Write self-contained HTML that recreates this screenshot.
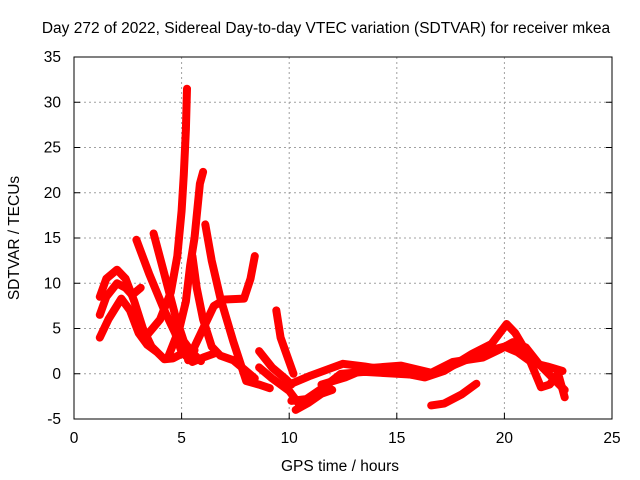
<!DOCTYPE html>
<html><head><meta charset="utf-8"><style>
html,body{margin:0;padding:0;background:#fff}
svg{display:block}
text{font-family:"Liberation Sans",sans-serif;font-size:15.5px;fill:#000}
</style></head><body>
<svg id="chart" width="640" height="480" viewBox="0 0 640 480" xmlns="http://www.w3.org/2000/svg">
<rect width="640" height="480" fill="#fff"/>
<text x="326" y="33" text-anchor="middle">Day 272 of 2022, Sidereal Day-to-day VTEC variation (SDTVAR) for receiver mkea</text>
<g id="grid"></g>
<g id="ticks"></g>
<g id="series"></g>
<rect x="74" y="57" width="538" height="362" fill="none" stroke="#000" stroke-width="1"/>
<text x="340" y="471" text-anchor="middle">GPS time / hours</text>
<text transform="translate(19,238) rotate(-90)" text-anchor="middle">SDTVAR / TECUs</text>
</svg>
<script>
const xTicks = [0, 5, 10, 15, 20, 25];
const yTicks = [-5, 0, 5, 10, 15, 20, 25, 30, 35];
// Each track: flat list of hour,value pairs
const trackA = [1.2,8.5, 1.5,10.5, 2.0,11.5, 2.4,10.5, 2.8,8, 3.2,5, 3.6,3, 4.2,1.6, 4.6,1.7, 5.0,2.2, 5.6,2.6];
const trackB = [1.2,6.5, 1.5,8.5, 2.0,10, 2.4,9.5, 2.7,8.7, 3.1,9.5];
const trackC = [1.2,4, 1.6,6, 2.2,8.3, 2.6,7, 3.0,4.5, 3.4,3.2, 3.8,2.5];
const trackSpike1 = [3.3,4, 4.0,6, 4.5,9, 4.8,13, 5.0,18, 5.1,22, 5.2,27, 5.25,31.5];
const trackD = [2.9,14.8, 3.5,11, 4.2,7, 4.7,4.5, 5.0,2.4, 5.5,1.3, 6.0,1.8, 6.6,2.3];
const trackE = [3.7,15.5, 4.2,11, 4.7,6.5, 5.1,3.6, 5.5,2.3, 5.9,1.4];
const trackSpike2 = [4.4,2, 4.9,5, 5.2,8, 5.4,12, 5.6,15, 5.85,21, 6.0,22.3];
const trackF = [6.1,16.5, 6.4,12.5, 6.8,8.4, 7.4,3.6, 8.0,-0.8, 8.6,-1.2, 9.1,-1.6];
const trackG = [5.3,1.5, 5.9,4.5, 6.5,7.5, 7.0,8.2, 7.9,8.3, 8.2,10.5, 8.4,13];
const trackH = [5.5,13, 5.7,9.5, 6.0,6, 6.4,3, 6.8,2, 7.4,1.5, 7.9,0.5, 8.4,-0.5];
const trackI = [9.4,7, 9.6,4, 9.9,2, 10.2,0];
const trackJ = [8.6,2.5, 9.2,0.7, 9.8,-0.5, 10.1,-1.2];
const trackK = [8.6,0.7, 9.2,-0.5, 10.0,-1.9, 10.5,-3.5];
const trackBand = [10.1,-1.1, 11.0,-0.2, 12.5,1.1, 13.5,0.8, 14.8,0.3, 16.3,-0.4, 17.2,0.3, 18.5,2.2, 19.4,3.3, 20.1,5.5, 20.5,4.5, 21.0,2.5, 21.7,-1.5, 22.1,-1.2, 22.5,0, 22.8,-2.6];
const trackBand2 = [10.1,-3, 10.8,-2.8, 11.6,-1.5, 12.4,0, 13.5,0.2, 15.0,0, 16.5,-0.2, 18.0,1.3, 19.2,2.5, 20.0,3, 20.6,2.4, 21.3,1.2, 22.0,0.8, 22.7,0.3];
const trackBand3 = [10.3,-4, 10.9,-3.2, 11.5,-2.2, 12.0,-1.8, 11.5,-1.2, 12.6,-0.4, 13.6,0.6, 15.2,0.9, 16.6,0.1, 17.6,1.3, 19.0,1.8, 19.8,2.7, 20.4,3.5, 21.0,2.9, 21.6,1.1, 22.3,-0.6, 22.8,-1.8];
const trackLow = [16.6,-3.5, 17.2,-3.3, 18.0,-2.3, 18.7,-1.1];
const tracks = [trackA, trackB, trackC, trackSpike1, trackD, trackE, trackSpike2, trackF, trackG, trackH, trackI, trackJ, trackK, trackBand, trackBand2, trackBand3, trackLow];

const X0 = 74, X1 = 612, Y0 = 419, Y1 = 57;
const xMin = 0, xMax = 25, yMin = -5, yMax = 35;
function xs(v){ return X0 + (v - xMin) / (xMax - xMin) * (X1 - X0); }
function ys(v){ return Y0 - (v - yMin) / (yMax - yMin) * (Y0 - Y1); }
const NS = "http://www.w3.org/2000/svg";
const grid = document.getElementById('grid');
const ticks = document.getElementById('ticks');
const series = document.getElementById('series');
function mk(tag, attrs, parent){ const e = document.createElementNS(NS, tag); for (const k in attrs) e.setAttribute(k, attrs[k]); parent.appendChild(e); return e; }

xTicks.forEach(t => {
  const x = xs(t);
  if (t > xMin && t < xMax) {
    const g = mk('line', {x1:x, x2:x, y1:Y0, y2:Y1, stroke:'#a0a0a0', 'stroke-dasharray':'2,3', 'stroke-width':1}, grid);
    
    
  }
  const tk = mk('line', {x1:x, x2:x, y1:Y0, y2:Y0-6, stroke:'#000'}, ticks);
  
  
  const lb = mk('text', {x:x, y:Y0+24, 'text-anchor':'middle'}, ticks);
  lb.textContent = t;
  
  
});
yTicks.forEach(t => {
  const y = ys(t);
  if (t > yMin && t < yMax) {
    const g = mk('line', {x1:X0, x2:X1, y1:y, y2:y, stroke:'#a0a0a0', 'stroke-dasharray':'2,3', 'stroke-width':1}, grid);
    
    
  }
  const tk = mk('line', {x1:X0, x2:X0+6, y1:y, y2:y, stroke:'#000'}, ticks);
  
  
  const tk2 = mk('line', {x1:X1, x2:X1-6, y1:y, y2:y, stroke:'#000'}, ticks);
  
  
  const lb = mk('text', {x:X0-13, y:y+5, 'text-anchor':'end'}, ticks);
  lb.textContent = t;
  
  
});
tracks.forEach((tr) => {
  const pts = [];
  for (let i = 0; i < tr.length; i += 2) pts.push(xs(tr[i]).toFixed(1) + ',' + ys(tr[i+1]).toFixed(1));
  const pl = mk('polyline', {points: pts.join(' '), fill:'none', stroke:'#ff0000', 'stroke-width':8, 'stroke-linejoin':'round', 'stroke-linecap':'round'}, series);
  
  
});
</script>
</body></html>
